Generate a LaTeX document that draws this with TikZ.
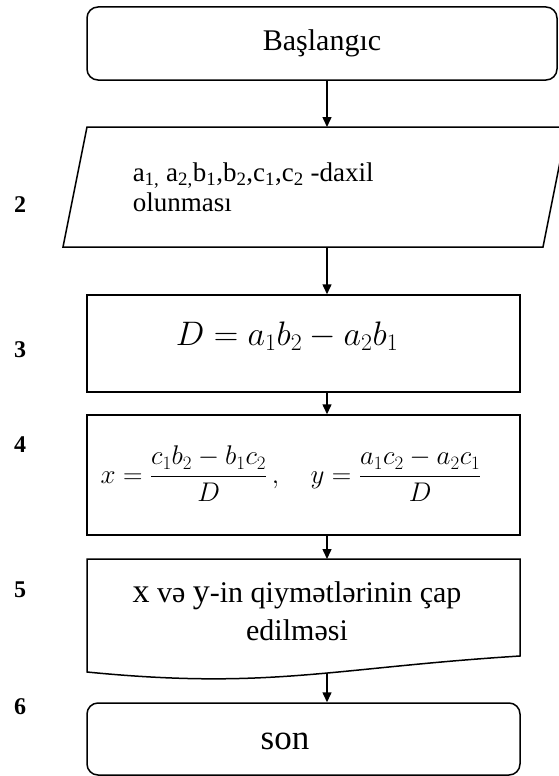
\documentclass[tikz,border=0pt]{standalone}
\usepackage{fix-cm}
\usepackage{amsmath}
\usepackage{fontspec}
\setmainfont{Liberation Serif}
\usetikzlibrary{arrows.meta}

\begin{document}
\begin{tikzpicture}[x=1pt,y=-1pt,>={Triangle[length=10pt,width=9pt]},
   line width=1.5pt,
   box/.style={draw, minimum width=433pt, inner sep=0pt},
   term/.style={box, rounded corners=11pt},
   txt/.style={inner sep=0pt, align=center},
   num/.style={inner sep=0pt, font=\fontsize{24}{28}\selectfont\bfseries}]
  \useasboundingbox (0,0) rectangle (559,776);
  \coordinate (ax) at (327,0);
  \node[term, minimum width=470pt, minimum height=73pt,
        font=\fontsize{30}{34}\selectfont] (start) at (322,43.5) {Başlangıc};
  \begin{scope}
    \clip (0,0) rectangle (559,776);
    \draw (87,127) -- (567,127) -- (543,247) -- (63,247) -- cycle;
  \end{scope}
  \coordinate (ioN) at (327,127);
  \coordinate (ioS) at (327,247);
  \node[txt, anchor=west, align=left, font=\fontsize{27}{30}\selectfont] (io) at (132,187)
    {a\textsubscript{1,} a\textsubscript{2,}b\textsubscript{1},b\textsubscript{2},c\textsubscript{1},c\textsubscript{2} -daxil\\olunması};
  \node[box, minimum height=97pt] (calcD) at (303.5,343.5) {};
  \node[txt, font=\fontsize{34}{40}\selectfont] (dform) at (287,336) {$D=a_1b_2-a_2b_1$};
  \node[box, minimum height=120pt] (calcXY) at (303.5,475) {};
  \node[txt, font=\fontsize{27}{32}\selectfont] (xyform) at (291,474)
    {$x=\displaystyle\frac{c_1b_2-b_1c_2}{D}\,,\quad y=\frac{a_1c_2-a_2c_1}{D}$};
  \draw (87,672) .. controls (270,690) and (330,668) .. (520,656) -- (520,559)
    -- (87,559) -- cycle;
  \coordinate (outN) at (327,559);
  \coordinate (outS) at (327,673);
  \node[txt, font=\fontsize{30}{38}\selectfont] (out) at (297,611)
    {{\fontsize{34}{38}\selectfont x} və {\fontsize{34}{38}\selectfont y}-in qiymətlərinin çap\\edilməsi};
  \node[term, minimum height=72pt] (stop) at (303.5,739) {};
  \node[txt, font=\fontsize{35}{40}\selectfont] (son) at (285,741) {son};
  \node[num] (n2) at (20,205) {2};
  \node[num] (n3) at (20,350) {3};
  \node[num] (n4) at (20,445) {4};
  \node[num] (n5) at (20,590) {5};
  \node[num] (n6) at (20,707) {6};
  \draw[->] (start.south -| ax) -- (ioN);
  \draw[->] (ioS) -- (calcD.north -| ax);
  \draw[->] (calcD.south -| ax) -- (calcXY.north -| ax);
  \draw[->] (calcXY.south -| ax) -- (outN);
  \draw[->] (outS) -- (stop.north -| ax);
\end{tikzpicture}
\end{document}
